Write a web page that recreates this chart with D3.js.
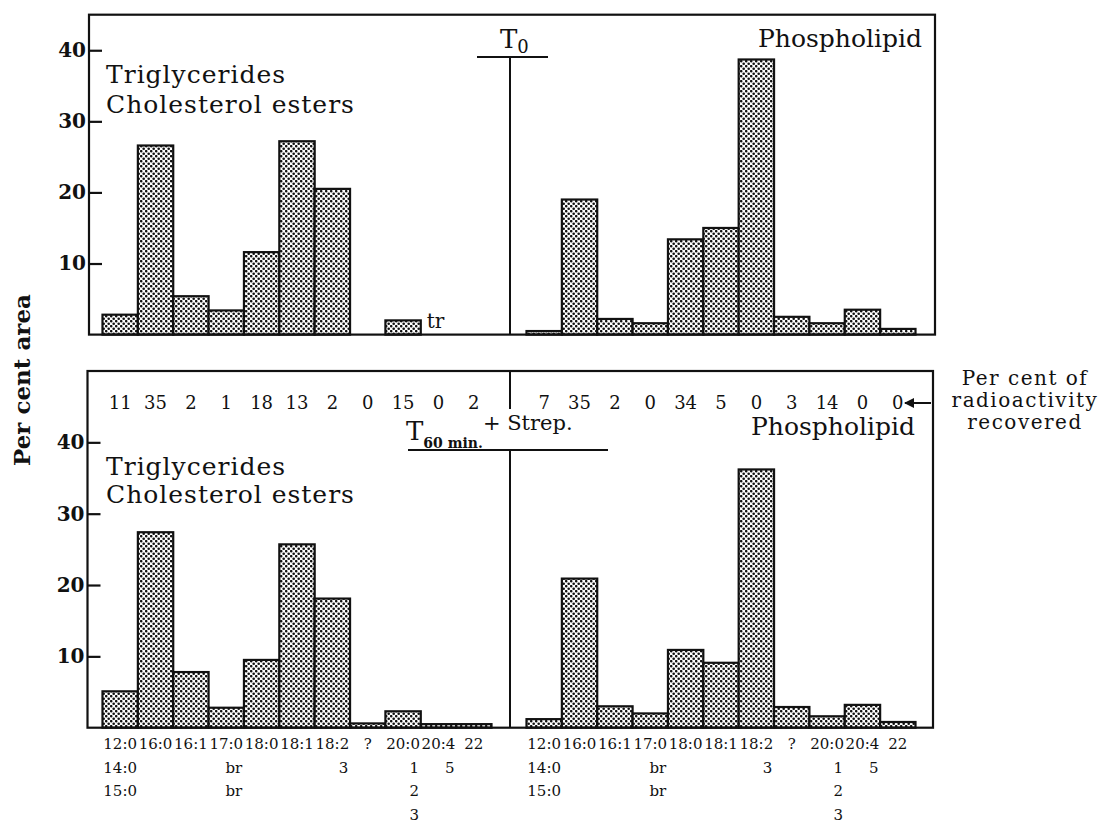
<!DOCTYPE html>
<head>
    <meta charset="utf-8">
    <title>Per cent area of fatty acids</title>
    <script src="https://cdn.jsdelivr.net/npm/d3@7"></script>
    <style>
        body { margin: 0; background: #fff; }
        text { font-family: "DejaVu Serif", serif; fill: #111; }
    </style>
</head>

<body>
    <svg id="chart" width="1114" height="827"></svg>
</body>

<script>
    var categories = ['12:0', '16:0', '16:1', '17:0', '18:0', '18:1', '18:2', '?', '20:0', '20:4', '22'];
    var subLabels2 = ['14:0', '', '', 'br', '', '', '3', '', '1', '5', ''];
    var subLabels3 = ['15:0', '', '', 'br', '', '', '', '', '2', '', ''];
    var subLabels4 = ['', '', '', '', '', '', '', '', '3', '', ''];

    // per cent area, T0
    var t0Neutral = [2.8, 26.6, 5.4, 3.4, 11.6, 27.2, 20.5, 0, 2.0, 0, 0];
    var t0Phospho = [0.5, 19.0, 2.2, 1.6, 13.4, 15.0, 38.7, 2.5, 1.6, 3.5, 0.8];
    // per cent area, T60 min + Strep.
    var t60Neutral = [5.1, 27.4, 7.8, 2.8, 9.5, 25.7, 18.1, 0.6, 2.3, 0.5, 0.5];
    var t60Phospho = [1.2, 20.9, 3.0, 2.0, 10.9, 9.1, 36.2, 2.9, 1.6, 3.2, 0.8];

    // per cent of radioactivity recovered
    var radioNeutral = [11, 35, 2, 1, 18, 13, 2, 0, 15, 0, 2];
    var radioPhospho = [7, 35, 2, 0, 34, 5, 0, 3, 14, 0, 0];

    var yTicks = [10, 20, 30, 40];

    var svg = d3.select('#chart');
    var ink = '#111';

    var defs = svg.append('defs');
    var pat = defs.append('pattern')
        .attr('id', 'stipple')
        .attr('patternUnits', 'userSpaceOnUse')
        .attr('width', 5)
        .attr('height', 5);
    pat.append('rect').attr('width', 5).attr('height', 5).attr('fill', '#fff');
    pat.append('circle').attr('cx', 1.2).attr('cy', 1.2).attr('r', 1.3).attr('fill', ink);
    pat.append('circle').attr('cx', 3.7).attr('cy', 3.7).attr('r', 1.3).attr('fill', ink);

    defs.append('marker')
        .attr('id', 'arrow')
        .attr('viewBox', '0 0 10 10')
        .attr('refX', 9).attr('refY', 5)
        .attr('markerWidth', 5).attr('markerHeight', 5)
        .attr('orient', 'auto')
        .append('path')
        .attr('d', 'M0,0L10,5L0,10z')
        .attr('fill', ink);

    var xLeft = d3.scaleBand().domain(categories).range([102.5, 491.5]).padding(0);
    var xRight = d3.scaleBand().domain(categories).range([526.5, 915.5]).padding(0);

    var panels = [
        { top: 14.7, bottom: 334.6, left: 89, right: 935, max: 45, neutral: t0Neutral, phospho: t0Phospho },
        { top: 371, bottom: 727.7, left: 87.5, right: 933, max: 50, neutral: t60Neutral, phospho: t60Phospho }
    ];

    panels.forEach(p => {
        p.y = d3.scaleLinear().domain([0, p.max]).range([p.bottom, p.top]);

        [[xLeft, p.neutral], [xRight, p.phospho]].forEach(side => {
            var x = side[0];
            var rows = categories
                .map((c, i) => ({ c: c, v: side[1][i] }))
                .filter(d => d.v > 0);
            svg.append('g')
                .selectAll('rect')
                .data(rows)
                .join('rect')
                .attr('x', d => x(d.c))
                .attr('width', x.bandwidth())
                .attr('y', d => p.y(d.v))
                .attr('height', d => p.bottom - p.y(d.v))
                .attr('fill', 'url(#stipple)')
                .attr('stroke', ink)
                .attr('stroke-width', 2.2);
        });

        svg.append('rect')
            .attr('x', p.left)
            .attr('y', p.top)
            .attr('width', p.right - p.left)
            .attr('height', p.bottom - p.top)
            .attr('fill', 'none')
            .attr('stroke', ink)
            .attr('stroke-width', 2.2);

        var ax = svg.append('g')
            .attr('transform', `translate(${p.left},0)`)
            .call(d3.axisLeft(p.y).tickValues(yTicks).tickSize(-13).tickPadding(3));
        ax.select('.domain').remove();
        ax.selectAll('line').attr('stroke', ink).attr('stroke-width', 2.2);
        ax.selectAll('text')
            .attr('font-family', '"DejaVu Serif", serif')
            .attr('font-size', 20)
            .attr('font-weight', 'bold')
            .attr('fill', ink);
    });

    var upper = panels[0], lower = panels[1];

    // dividers and time labels
    svg.append('line').attr('x1', 510).attr('x2', 510).attr('y1', 57).attr('y2', upper.bottom)
        .attr('stroke', ink).attr('stroke-width', 2);
    svg.append('line').attr('x1', 477).attr('x2', 548).attr('y1', 57).attr('y2', 57)
        .attr('stroke', ink).attr('stroke-width', 2);
    var t0 = svg.append('text').attr('x', 500).attr('y', 48).attr('font-size', 26);
    t0.append('tspan').text('T');
    t0.append('tspan').attr('dy', 5).attr('font-size', 18).text('0');

    svg.append('line').attr('x1', 510).attr('x2', 510).attr('y1', lower.top).attr('y2', 409)
        .attr('stroke', ink).attr('stroke-width', 2);
    svg.append('line').attr('x1', 510).attr('x2', 510).attr('y1', 450).attr('y2', lower.bottom)
        .attr('stroke', ink).attr('stroke-width', 2);
    svg.append('line').attr('x1', 408).attr('x2', 608).attr('y1', 450).attr('y2', 450)
        .attr('stroke', ink).attr('stroke-width', 2);
    var t60 = svg.append('text').attr('x', 406).attr('y', 440).attr('font-size', 26);
    t60.append('tspan').text('T');
    t60.append('tspan').attr('dy', 8).attr('font-size', 14).attr('font-weight', 'bold').text('60 min.');
    t60.append('tspan').attr('dy', -18).attr('font-size', 21).text('+ Strep.');

    // panel labels
    [[83, 113, 922, 47], [475, 503, 915, 435]].forEach(l => {
        svg.append('text').attr('x', 106).attr('y', l[0]).attr('font-size', 25)
            .attr('letter-spacing', 1).text('Triglycerides');
        svg.append('text').attr('x', 106).attr('y', l[1]).attr('font-size', 25)
            .attr('letter-spacing', 1).text('Cholesterol esters');
        svg.append('text').attr('x', l[2]).attr('y', l[3]).attr('font-size', 25)
            .attr('text-anchor', 'end').text('Phospholipid');
    });

    svg.append('text')
        .attr('x', xLeft('20:0') + xLeft.bandwidth() + 6)
        .attr('y', 328)
        .attr('font-size', 20)
        .text('tr');

    // radioactivity recovered row
    [[xLeft, radioNeutral], [xRight, radioPhospho]].forEach(side => {
        var x = side[0];
        svg.append('g')
            .selectAll('text')
            .data(categories.map((c, i) => ({ c: c, v: side[1][i] })))
            .join('text')
            .attr('x', d => x(d.c) + x.bandwidth() / 2)
            .attr('y', 409)
            .attr('text-anchor', 'middle')
            .attr('font-size', 18)
            .text(d => d.v);
    });

    svg.append('line')
        .attr('x1', 931).attr('x2', 905).attr('y1', 403).attr('y2', 403)
        .attr('stroke', ink).attr('stroke-width', 2)
        .attr('marker-end', 'url(#arrow)');

    ['Per cent of', 'radioactivity', 'recovered'].forEach((t, i) => {
        svg.append('text')
            .attr('x', 1025)
            .attr('y', 385 + i * 22)
            .attr('text-anchor', 'middle')
            .attr('font-size', 20)
            .attr('letter-spacing', 1.5)
            .text(t);
    });

    // category labels under the lower panel
    var labelRows = [categories, subLabels2, subLabels3, subLabels4];
    [xLeft, xRight].forEach(x => {
        labelRows.forEach((row, r) => {
            svg.append('g')
                .selectAll('text')
                .data(row.map((t, i) => ({ c: categories[i], t: t })).filter(d => d.t !== ''))
                .join('text')
                .attr('x', d => x(d.c) + x.bandwidth() / 2 + (r > 0 && d.t.length < 3 ? 16 : 0))
                .attr('y', 749 + r * 23.5)
                .attr('text-anchor', d => (r > 0 && d.t.length < 3) ? 'end' : 'middle')
                .attr('font-size', 15)
                .text(d => d.t);
        });
    });

    svg.append('text')
        .attr('transform', 'translate(30,380) rotate(-90)')
        .attr('text-anchor', 'middle')
        .attr('font-size', 23)
        .attr('font-weight', 'bold')
        .text('Per cent area');
</script>
